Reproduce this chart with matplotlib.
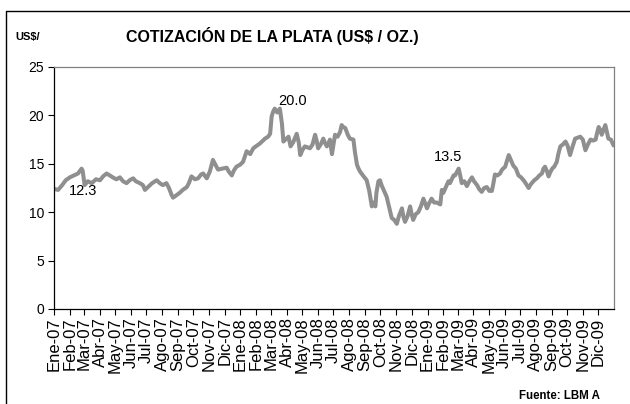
import matplotlib
matplotlib.use('Agg')
import matplotlib.pyplot as plt
import numpy as np
from matplotlib.lines import Line2D

plt.rcParams['font.family'] = ['Liberation Sans', 'DejaVu Sans']

# ---- data ----
dates = [
    # 2007
    '2007-01-02', '2007-01-09', '2007-01-17', '2007-01-24', '2007-02-01', '2007-02-09',
    '2007-02-17', '2007-02-24', '2007-02-26', '2007-03-02', '2007-03-08', '2007-03-16',
    '2007-03-24', '2007-04-01', '2007-04-07', '2007-04-14', '2007-04-20', '2007-04-26',
    '2007-05-03', '2007-05-10', '2007-05-16', '2007-05-23', '2007-05-29', '2007-06-05',
    '2007-06-10', '2007-06-18', '2007-06-24', '2007-06-28', '2007-07-04', '2007-07-12',
    '2007-07-21', '2007-07-27', '2007-08-02', '2007-08-09', '2007-08-14', '2007-08-19',
    '2007-08-22', '2007-08-30', '2007-09-04', '2007-09-10', '2007-09-18', '2007-09-22',
    '2007-09-27', '2007-10-04', '2007-10-10', '2007-10-16', '2007-10-20', '2007-10-27',
    '2007-11-02', '2007-11-08', '2007-11-14', '2007-11-18', '2007-11-26', '2007-12-05',
    '2007-12-09', '2007-12-15', '2007-12-19', '2007-12-24', '2007-12-31',
    # 2008
    '2008-01-06', '2008-01-13', '2008-01-20', '2008-01-26', '2008-01-31', '2008-02-08',
    '2008-02-14', '2008-02-18', '2008-02-24', '2008-02-28', '2008-03-02', '2008-03-05',
    '2008-03-08', '2008-03-13', '2008-03-18', '2008-03-22', '2008-03-25', '2008-03-29',
    '2008-04-04', '2008-04-08', '2008-04-13', '2008-04-20', '2008-04-24', '2008-04-27',
    '2008-05-01', '2008-05-06', '2008-05-11', '2008-05-16', '2008-05-21', '2008-05-26',
    '2008-05-29', '2008-06-01', '2008-06-07', '2008-06-11', '2008-06-14', '2008-06-18',
    '2008-06-21', '2008-06-24', '2008-06-28', '2008-07-01', '2008-07-04', '2008-07-09',
    '2008-07-14', '2008-07-17', '2008-07-20', '2008-07-24', '2008-07-29', '2008-08-02',
    '2008-08-09', '2008-08-12', '2008-08-16', '2008-08-19', '2008-08-22', '2008-08-29',
    '2008-09-04', '2008-09-09', '2008-09-14', '2008-09-18', '2008-09-21', '2008-09-23',
    '2008-09-27', '2008-09-30', '2008-10-03', '2008-10-08', '2008-10-13', '2008-10-18',
    '2008-10-23', '2008-10-28', '2008-11-02', '2008-11-06', '2008-11-12', '2008-11-15',
    '2008-11-18', '2008-11-23', '2008-11-28', '2008-12-01', '2008-12-04', '2008-12-09',
    '2008-12-14', '2008-12-19', '2008-12-24', '2008-12-31',
    # 2009
    '2009-01-04', '2009-01-09', '2009-01-14', '2009-01-19', '2009-01-26', '2009-01-29',
    '2009-02-01', '2009-02-06', '2009-02-11', '2009-02-14', '2009-02-21', '2009-02-24',
    '2009-03-03', '2009-03-06', '2009-03-09', '2009-03-14', '2009-03-19', '2009-03-24',
    '2009-03-29', '2009-04-02', '2009-04-08', '2009-04-12', '2009-04-17', '2009-04-22',
    '2009-04-27', '2009-05-02', '2009-05-07', '2009-05-10', '2009-05-13', '2009-05-18',
    '2009-05-23', '2009-05-27', '2009-06-02', '2009-06-09', '2009-06-13', '2009-06-18',
    '2009-06-23', '2009-06-28', '2009-07-03', '2009-07-08', '2009-07-12', '2009-07-18',
    '2009-07-21', '2009-07-24', '2009-07-29', '2009-08-03', '2009-08-08', '2009-08-13',
    '2009-08-16', '2009-08-19', '2009-08-23', '2009-08-26', '2009-08-29', '2009-09-02',
    '2009-09-06', '2009-09-11', '2009-09-14', '2009-09-18', '2009-09-23', '2009-09-28',
    '2009-10-02', '2009-10-07', '2009-10-12', '2009-10-17', '2009-10-22', '2009-10-27',
    '2009-11-01', '2009-11-06', '2009-11-11', '2009-11-16', '2009-11-21', '2009-11-26',
    '2009-11-29', '2009-12-02', '2009-12-05', '2009-12-08', '2009-12-12', '2009-12-15',
    '2009-12-18', '2009-12-21', '2009-12-26', '2009-12-31',
]

prices = [
    # 2007
    12.4, 12.3, 12.8, 13.3, 13.6, 13.8,
    14.0, 14.5, 14.3, 12.8, 13.2, 13.0,
    13.4, 13.3, 13.7, 14.0, 13.8, 13.6,
    13.4, 13.6, 13.2, 13.0, 13.3, 13.5,
    13.2, 13.0, 12.8, 12.3, 12.6, 13.0,
    13.3, 13.0, 12.8, 13.0, 12.5, 11.8,
    11.5, 11.8, 12.0, 12.3, 12.6, 13.0,
    13.7, 13.4, 13.5, 13.9, 14.0, 13.5,
    14.2, 15.4, 14.8, 14.4, 14.5, 14.6,
    14.2, 13.8, 14.3, 14.7, 14.9,
    # 2008
    15.2, 16.3, 16.0, 16.6, 16.8, 17.1,
    17.4, 17.6, 17.8, 18.1, 19.9, 20.4,
    20.7, 20.3, 20.7, 19.2, 17.3, 17.5,
    17.8, 16.8, 17.2, 18.1, 17.2, 15.9,
    16.4, 16.8, 16.7, 16.6, 17.0, 18.0,
    17.4, 16.6, 17.1, 17.6, 17.2, 16.8,
    17.1, 17.5, 16.0, 17.0, 18.0, 17.8,
    18.3, 19.0, 18.8, 18.7, 18.0, 17.6,
    17.5, 16.2, 14.9, 14.5, 14.2, 13.7,
    13.3, 12.2, 10.6, 11.0, 10.6, 12.0,
    13.2, 13.3, 12.8, 12.2, 11.6, 10.5,
    9.4, 9.2, 8.8, 9.6, 10.4, 9.5,
    9.0, 9.6, 10.6, 9.8, 9.2, 9.8,
    10.0, 10.6, 11.4, 10.4,
    # 2009
    10.9, 11.4, 11.0, 11.0, 10.8, 12.3,
    12.0, 12.6, 13.2, 13.0, 13.8, 13.8,
    14.5, 13.8, 13.0, 13.2, 12.7, 13.2,
    13.6, 13.2, 12.8, 12.4, 12.1, 12.5,
    12.6, 12.2, 12.2, 13.0, 13.9, 13.8,
    14.0, 14.4, 14.7, 15.9, 15.4, 14.8,
    14.5, 13.8, 13.6, 13.3, 13.0, 12.5,
    12.8, 13.0, 13.3, 13.5, 13.8, 14.0,
    14.5, 14.7, 14.2, 13.7, 14.1, 14.5,
    14.7, 15.2, 16.0, 16.8, 17.0, 17.3,
    16.9, 15.9, 16.8, 17.6, 17.7, 17.8,
    17.5, 16.4, 17.0, 17.5, 17.4, 17.5,
    18.2, 18.8, 18.5, 18.0, 18.6, 19.0,
    18.3, 17.6, 17.5, 16.9,
]

meses = ['Ene', 'Feb', 'Mar', 'Abr', 'May', 'Jun',
         'Jul', 'Ago', 'Sep', 'Oct', 'Nov', 'Dic']
years = [2007, 2008, 2009]
y_ticks = [0, 5, 10, 15, 20, 25]

label_texts = ['12.3', '20.0', '13.5']
label_dates = ['2007-02-27', '2008-04-11', '2009-02-11']
label_yvals = [12.2, 21.5, 15.7]

# ---- figure ----
fig = plt.figure(figsize=(6.3, 4.04), dpi=100)
ax = fig.add_axes([54 / 630, 1 - 309 / 404, (614 - 54) / 630, (309 - 67) / 404])

x = np.array(dates, dtype='datetime64[D]')
ax.plot(x, prices, color='#8f8f8f', lw=2.9,
        solid_joinstyle='round', solid_capstyle='round')

ax.set_xlim(np.datetime64('2007-01-01'), np.datetime64('2010-01-01'))
ax.set_ylim(0, 25)
ax.set_yticks(y_ticks)
ax.set_yticklabels([str(v) for v in y_ticks])

tick_dates = [np.datetime64(f'{yr}-{m + 1:02d}-01') for yr in years for m in range(12)]
tick_labels = [f'{meses[m]}-{str(yr)[2:]}' for yr in years for m in range(12)]
ax.set_xticks(tick_dates)
ax.set_xticklabels(tick_labels, rotation=90, fontsize=12)
ax.tick_params(axis='x', direction='out', length=4, width=0.8, pad=2)
ax.tick_params(axis='y', direction='out', length=4, width=0.8, pad=3, labelsize=10)

for s in ['left', 'bottom']:
    ax.spines[s].set_color('black')
    ax.spines[s].set_linewidth(0.9)
for s in ['top', 'right']:
    ax.spines[s].set_color('#808080')
    ax.spines[s].set_linewidth(0.9)

for t, d, v in zip(label_texts, label_dates, label_yvals):
    ax.text(np.datetime64(d), v, t, ha='center', va='center', fontsize=10.5)

fig.text(272 / 630, 1 - 36 / 404, 'COTIZACIÓN DE LA PLATA (US$ / OZ.)',
         ha='center', va='center', fontsize=11.5, fontweight='bold')
fig.text(28 / 630, 1 - 37 / 404, 'US$/', ha='center', va='center',
         fontsize=8, fontweight='bold')
fig.text(559 / 630, 1 - 396 / 404, 'Fuente: LBM A', ha='center', va='center',
         fontsize=8.3, fontweight='bold')

# outer frame (left and top edges)
fig.add_artist(Line2D([5.5 / 630, 5.5 / 630, 1.0], [0.0, 1 - 10.5 / 404, 1 - 10.5 / 404],
                      transform=fig.transFigure, color='black', lw=1.0))

fig.savefig('out.png', dpi=100)
